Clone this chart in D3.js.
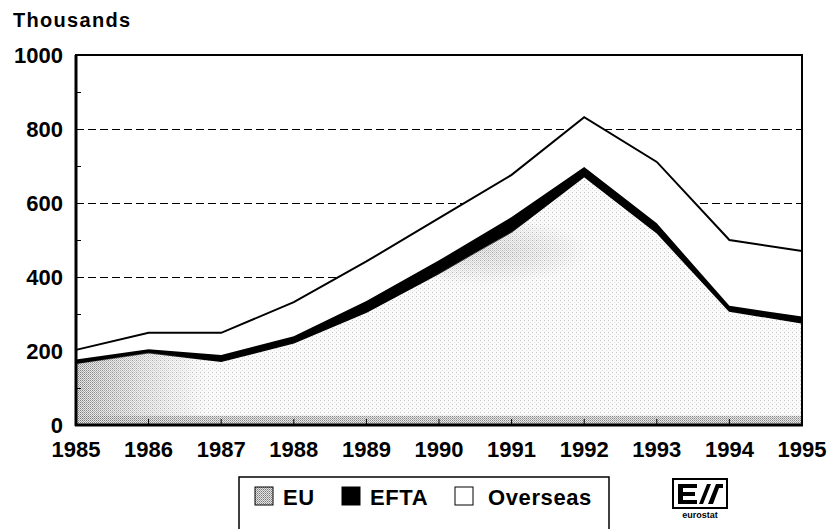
<!DOCTYPE html>
<html>
<head>
<meta charset="utf-8">
<script src="https://cdn.jsdelivr.net/npm/d3@7"></script>
<style>
  body { margin: 0; background: #fff; }
  text { font-family: "Liberation Sans", Arial, sans-serif; font-weight: bold; fill: #000; }
</style>
</head>
<body>
<svg id="svg" width="831" height="529"></svg>
<script>
// values in thousands
var years = [1985, 1986, 1987, 1988, 1989, 1990, 1991, 1992, 1993, 1994, 1995];
var eu       = [165, 195, 172, 222, 305, 410, 522, 672, 520, 308, 276];
var efta     = [12, 10, 17, 18, 30, 35, 40, 25, 25, 14, 17];
var overseas = [26, 44, 60, 92, 107, 114, 114, 135, 166, 178, 177];
var yTicks = [0, 200, 400, 600, 800, 1000];
var yMinor = [100, 300, 500, 700, 900];
var gridVals = [200, 400, 600, 800];
var legendNames = ["EU", "EFTA", "Overseas"];

var svg = d3.select("#svg");

// plot box
var pLeft = 76, pRight = 802, pTop = 55, pBottom = 425;

var x = d3.scaleLinear().domain([1985, 1995]).range([pLeft, pRight]);
var y = d3.scaleLinear().domain([0, 1000]).range([pBottom, pTop]);

// stipple for EU
var defs = svg.append("defs");
var pat = defs.append("pattern")
    .attr("id", "stip")
    .attr("width", 4).attr("height", 4)
    .attr("patternUnits", "userSpaceOnUse");
pat.append("rect").attr("width", 4).attr("height", 4).attr("fill", "#fbfbfb");
pat.append("rect").attr("x", 0).attr("y", 0).attr("width", 1).attr("height", 1).attr("fill", "#c4c4c4");
pat.append("rect").attr("x", 2).attr("y", 2).attr("width", 1).attr("height", 1).attr("fill", "#e0e0e0");

var pat2 = defs.append("pattern")
    .attr("id", "stipDark")
    .attr("width", 2).attr("height", 2)
    .attr("patternUnits", "userSpaceOnUse");
pat2.append("rect").attr("width", 2).attr("height", 2).attr("fill", "#e4e4e4");
pat2.append("rect").attr("width", 1).attr("height", 1).attr("fill", "#7a7a7a");
pat2.append("rect").attr("x", 1).attr("y", 1).attr("width", 1).attr("height", 1).attr("fill", "#a0a0a0");

var fade = defs.append("linearGradient").attr("id", "fade")
    .attr("x1", 0).attr("x2", 1).attr("y1", 0).attr("y2", 0);
fade.append("stop").attr("offset", "0%").attr("stop-color", "#fff").attr("stop-opacity", 0.95);
fade.append("stop").attr("offset", "9%").attr("stop-color", "#fff").attr("stop-opacity", 0.45);
fade.append("stop").attr("offset", "18%").attr("stop-color", "#fff").attr("stop-opacity", 0);
fade.append("stop").attr("offset", "100%").attr("stop-color", "#fff").attr("stop-opacity", 0);
var mask = defs.append("mask").attr("id", "leftMask");
mask.append("rect").attr("x", pLeft).attr("y", pTop).attr("width", pRight - pLeft).attr("height", pBottom - pTop)
    .attr("fill", "url(#fade)");

// darker patch under the 1989-1992 rise
var blob = defs.append("radialGradient").attr("id", "blob");
blob.append("stop").attr("offset", "0%").attr("stop-color", "#fff").attr("stop-opacity", 0.5);
blob.append("stop").attr("offset", "60%").attr("stop-color", "#fff").attr("stop-opacity", 0.25);
blob.append("stop").attr("offset", "100%").attr("stop-color", "#fff").attr("stop-opacity", 0);
var mask2 = defs.append("mask").attr("id", "midMask");
mask2.append("ellipse")
    .attr("cx", x(1990.6)).attr("cy", y(470))
    .attr("rx", x(1992.1) - x(1990.6)).attr("ry", y(380) - y(470))
    .attr("fill", "url(#blob)");

// grid (drawn first, covered by the areas)
svg.selectAll(".grid")
    .data(gridVals)
    .enter().append("line")
    .attr("class", "grid")
    .attr("x1", pLeft).attr("x2", pRight)
    .attr("y1", function(d){ return Math.round(y(d)) + 0.5; })
    .attr("y2", function(d){ return Math.round(y(d)) + 0.5; })
    .attr("stroke", "#000")
    .attr("stroke-width", 1)
    .attr("stroke-dasharray", "8,4");

var rows = years.map(function(yr, i) {
    return { year: yr, EU: eu[i], EFTA: efta[i], Overseas: overseas[i] };
});
var stack = d3.stack().keys(legendNames)(rows);

var area = d3.area()
    .x(function(d){ return x(d.data.year); })
    .y0(function(d){ return y(d[0]); })
    .y1(function(d){ return y(d[1]); });

var fills = { "EU": "url(#stip)", "EFTA": "#000", "Overseas": "#fff" };

svg.selectAll(".layer")
    .data(stack)
    .enter().append("path")
    .attr("class", "layer")
    .attr("d", area)
    .attr("fill", function(d){ return fills[d.key]; })
    .attr("stroke", function(d){ return d.key == "EFTA" ? "#000" : "none"; })
    .attr("stroke-width", 1.5);

// darker stipple at the left of the EU area, mid patch, and a strip along the bottom
var euLayer = stack[0];
svg.append("path")
    .attr("d", area(euLayer))
    .attr("fill", "url(#stipDark)")
    .attr("mask", "url(#leftMask)");
svg.append("path")
    .attr("d", area(euLayer))
    .attr("fill", "url(#stipDark)")
    .attr("mask", "url(#midMask)");
svg.append("rect")
    .attr("x", pLeft).attr("width", pRight - pLeft)
    .attr("y", y(25)).attr("height", y(0) - y(25))
    .attr("fill", "url(#stipDark)")
    .attr("opacity", 0.85);

// total line
var line = d3.line()
    .x(function(d){ return x(d.data.year); })
    .y(function(d){ return y(d[1]); });
svg.append("path")
    .attr("d", line(stack[2]))
    .attr("fill", "none")
    .attr("stroke", "#000")
    .attr("stroke-width", 2);

// frame
svg.append("rect")
    .attr("x", pLeft).attr("y", pTop)
    .attr("width", pRight - pLeft).attr("height", pBottom - pTop)
    .attr("fill", "none").attr("stroke", "#000").attr("stroke-width", 2);
svg.append("line")
    .attr("x1", pLeft).attr("x2", pLeft).attr("y1", pTop).attr("y2", pBottom + 1)
    .attr("stroke", "#000").attr("stroke-width", 3);
svg.append("line")
    .attr("x1", pLeft - 1).attr("x2", pRight + 1).attr("y1", pBottom).attr("y2", pBottom)
    .attr("stroke", "#000").attr("stroke-width", 3);

// minor ticks on left, inward
svg.selectAll(".minor")
    .data(yMinor)
    .enter().append("line")
    .attr("x1", pLeft).attr("x2", pLeft + 5)
    .attr("y1", function(d){ return Math.round(y(d)) + 0.5; })
    .attr("y2", function(d){ return Math.round(y(d)) + 0.5; })
    .attr("stroke", "#000").attr("stroke-width", 1);

// year ticks, inward from bottom
svg.selectAll(".xt")
    .data(years.slice(1, -1))
    .enter().append("line")
    .attr("x1", function(d){ return x(d); })
    .attr("x2", function(d){ return x(d); })
    .attr("y1", pBottom).attr("y2", pBottom - 6)
    .attr("stroke", "#000").attr("stroke-width", 1);

// axis labels
svg.selectAll(".ylab")
    .data(yTicks)
    .enter().append("text")
    .attr("x", pLeft - 13)
    .attr("y", function(d){ return y(d); })
    .attr("dy", "0.36em")
    .attr("text-anchor", "end")
    .style("font-size", "22px")
    .text(function(d){ return d; });

svg.selectAll(".xlab")
    .data(years)
    .enter().append("text")
    .attr("x", function(d){ return x(d); })
    .attr("y", pBottom + 32)
    .attr("text-anchor", "middle")
    .style("font-size", "22px")
    .text(function(d){ return d; });

svg.append("text")
    .attr("x", 13).attr("y", 27)
    .style("font-size", "20px")
    .style("letter-spacing", "1.3px")
    .text("Thousands");

// legend
svg.append("rect")
    .attr("x", 239).attr("y", 477)
    .attr("width", 370).attr("height", 60)
    .attr("fill", "#fff").attr("stroke", "#000").attr("stroke-width", 1.5);

var legX = [255, 342, 455];
var leg = svg.selectAll(".leg")
    .data(legendNames)
    .enter().append("g")
    .attr("transform", function(d, i){ return "translate(" + legX[i] + ",487)"; });
leg.append("rect")
    .attr("width", 18).attr("height", 18)
    .attr("fill", function(d){ return d == "EU" ? "url(#stipDark)" : fills[d]; })
    .attr("stroke", "#000").attr("stroke-width", 1);
leg.append("text")
    .attr("x", function(d){ return d == "Overseas" ? 33 : 28; })
    .attr("y", 18)
    .style("font-size", "22px")
    .style("letter-spacing", "0.6px")
    .text(function(d){ return d; });

// eurostat logo
var logo = svg.append("g").attr("transform", "translate(673,479)");
logo.append("rect").attr("x", 0).attr("y", 0).attr("width", 54).attr("height", 29)
    .attr("fill", "#fff").attr("stroke", "#000").attr("stroke-width", 2);
logo.append("path")
    .attr("d", "M5,5 H24 V9 H10 V13 H22 V17 H10 V21 H24 V25 H5 Z")
    .attr("fill", "#000");
logo.append("path")
    .attr("d", "M26,25 L34,5 H38 L30,25 Z M40,25 L46,9 H50 V5 H43 L35,25 Z")
    .attr("fill", "#000");
logo.append("text")
    .attr("x", 27).attr("y", 39)
    .attr("text-anchor", "middle")
    .style("font-size", "9px")
    .text("eurostat");
</script>
</body>
</html>
